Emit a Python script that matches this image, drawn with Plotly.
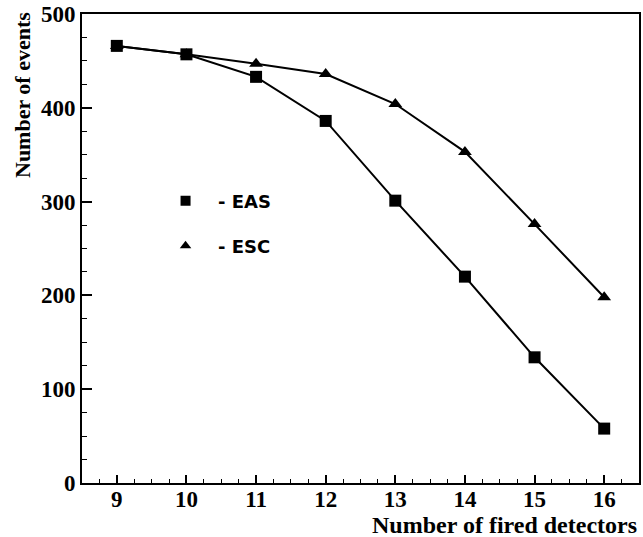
import plotly.graph_objects as go

detectors = [9, 10, 11, 12, 13, 14, 15, 16]
eas_events = [466, 457, 433, 386, 301, 220, 134, 58]
esc_events = [466, 457, 447, 436, 404, 353, 276, 198]
x_ticks = [9, 10, 11, 12, 13, 14, 15, 16]
y_ticks = [0, 100, 200, 300, 400, 500]

serif = "Liberation Serif"
fig = go.Figure()

fig.add_trace(go.Scatter(x=detectors, y=eas_events, mode="lines+markers",
                         line=dict(color="black", width=2),
                         marker=dict(symbol="square", size=12, color="black"),
                         showlegend=False))
fig.add_trace(go.Scatter(x=detectors, y=esc_events, mode="lines+markers",
                         line=dict(color="black", width=2),
                         marker=dict(symbol="triangle-up", size=12, color="black"),
                         showlegend=False))

# legend-only entries
fig.add_trace(go.Scatter(x=[None], y=[None], mode="markers", name="\u00a0\u00a0- EAS",
                         marker=dict(symbol="square", size=10, color="black"),
                         legend="legend"))
fig.add_trace(go.Scatter(x=[None], y=[None], mode="markers", name="\u00a0\u00a0- ESC",
                         marker=dict(symbol="triangle-up", size=10, color="black"),
                         legend="legend2"))

legend_font = dict(family="DejaVu Sans", size=18, color="black", weight="bold")
tick_font = dict(family=serif, size=23, color="black", weight="bold")
fig.update_layout(
    width=643, height=537,
    margin=dict(l=82, r=2, t=14, b=54),
    paper_bgcolor="white", plot_bgcolor="white",
    legend=dict(x=0.150, y=0.601, xanchor="left", yanchor="middle",
                font=legend_font, bgcolor="rgba(0,0,0,0)"),
    legend2=dict(x=0.150, y=0.505, xanchor="left", yanchor="middle",
                 font=legend_font, bgcolor="rgba(0,0,0,0)"),
    xaxis=dict(range=[8.5, 16.5], tickvals=x_ticks, ticktext=[str(v) for v in x_ticks],
               ticks="inside", ticklen=8, tickwidth=1.5, tickcolor="black",
               minor=dict(dtick=0.25, tick0=0, ticks="inside", ticklen=4,
                          tickwidth=1.2, tickcolor="black", showgrid=False),
               showline=True, linecolor="black", linewidth=2, mirror=True,
               showgrid=False, zeroline=False, ticklabelstandoff=-6,
               tickfont=tick_font),
    yaxis=dict(range=[0, 500], tickvals=y_ticks, ticktext=[str(v) for v in y_ticks],
               ticks="inside", ticklen=10, tickwidth=1.5, tickcolor="black",
               minor=dict(dtick=25, tick0=0, ticks="inside", ticklen=5,
                          tickwidth=1.2, tickcolor="black", showgrid=False),
               showline=True, linecolor="black", linewidth=2, mirror=True,
               showgrid=False, zeroline=False, ticklabelstandoff=0,
               tickfont=tick_font),
    annotations=[
        dict(text="Number of events", xref="paper", yref="paper", x=0, y=1,
             xanchor="center", yanchor="top", xshift=-60, yshift=4, textangle=-90,
             showarrow=False, font=dict(family=serif, size=22, color="black", weight="bold")),
        dict(text="Number of fired detectors", xref="paper", yref="paper", x=1, y=0,
             xanchor="right", yanchor="top", yshift=-27,
             showarrow=False, font=dict(family=serif, size=24, color="black", weight="bold")),
    ],
)

fig.write_html("out.html")
